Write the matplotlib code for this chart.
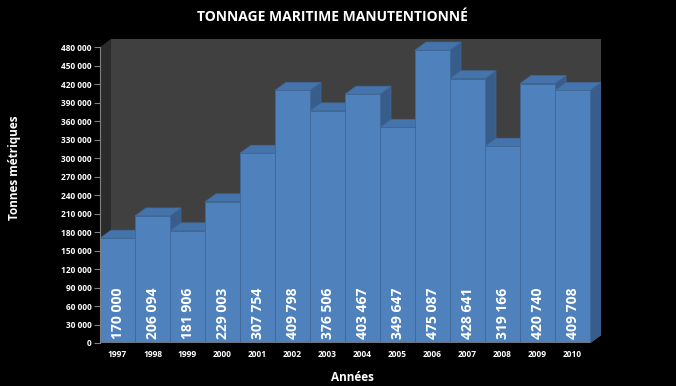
"""Tonnage maritime manutentionné, 1997-2010 -- Excel-like 3D column chart."""
import matplotlib
matplotlib.use("Agg")
import matplotlib.pyplot as plt
from matplotlib.ticker import FuncFormatter

plt.rcParams['font.family'] = ['Open Sans', 'DejaVu Sans']

YEARS = ["1997", "1998", "1999", "2000", "2001", "2002", "2003",
         "2004", "2005", "2006", "2007", "2008", "2009", "2010"]
TONNES = [170000, 206094, 181906, 229003, 307754, 409798, 376506,
          403467, 349647, 475087, 428641, 319166, 420740, 409708]
Y_TICKS = list(range(0, 480001, 30000))

# oblique depth offset (bar widths / data units)
DX = 0.314
DY = 12990
YMAX = 480000

FRONT = "#4f81bd"
TOP = "#4573ab"
SIDE = "#385d8a"
EDGE = "#3f6898"


def fmt(v, pos=None):
    return f"{int(v):,}".replace(",", " ")


def main():
    fig = plt.figure(figsize=(6.76, 3.86), dpi=100, facecolor="black")
    ax = fig.add_axes([100 / 676, 43 / 386, 501 / 676, 304 / 386])
    ax.set_facecolor("black")
    n = len(TONNES)
    ax.set_xlim(0, n + DX)
    ax.set_ylim(0, YMAX + DY)

    # walls
    ax.fill([DX, n + DX, n + DX, DX], [DY, DY, YMAX + DY, YMAX + DY],
            color="#404040", lw=0, zorder=0)
    ax.fill([0, DX, DX, 0], [0, DY, YMAX + DY, YMAX],
            color="#2b2b2b", lw=0, zorder=0)
    ax.fill([0, n, n + DX, DX], [0, 0, DY, DY], color="#111111", lw=0, zorder=0)

    for i, v in enumerate(TONNES):
        x0, x1 = i, i + 1
        # side
        ax.fill([x1, x1 + DX, x1 + DX, x1], [0, DY, v + DY, v],
                color=SIDE, ec=EDGE, lw=0.5, zorder=2)
        # top
        ax.fill([x0, x0 + DX, x1 + DX, x1], [v, v + DY, v + DY, v],
                color=TOP, ec=EDGE, lw=0.5, zorder=2)
        # front
        ax.fill([x0, x1, x1, x0], [0, 0, v, v],
                color=FRONT, ec=EDGE, lw=0.6, zorder=2)
        ax.text(i + 0.5, 7000, fmt(v), rotation=90, ha="center", va="bottom",
                color="white", fontsize=10, fontweight="bold", zorder=3)

    # floor front edge
    ax.plot([0, n], [0, 0], color="#707070", lw=1.2, zorder=4)

    for s in ("top", "right", "bottom"):
        ax.spines[s].set_visible(False)
    ax.spines["left"].set_color("#808080")
    ax.spines["left"].set_bounds(0, YMAX)
    ax.spines["left"].set_zorder(5)

    ax.set_yticks(Y_TICKS)
    ax.yaxis.set_major_formatter(FuncFormatter(fmt))
    ax.tick_params(axis="y", colors="#808080", length=4, width=0.8,
                   labelcolor="white", labelsize=6, pad=2)
    for t in ax.get_yticklabels():
        t.set_fontweight("bold")

    ax.set_xticks([i + 0.5 for i in range(n)])
    ax.set_xticklabels(YEARS, fontsize=6, fontweight="bold", color="white")
    ax.tick_params(axis="x", length=0, pad=5)

    fig.text(0.492, 0.955, "TONNAGE MARITIME MANUTENTIONNÉ", ha="center",
             va="center", color="white", fontsize=10, fontweight="bold")
    fig.text(0.022, 0.565, "Tonnes métriques", rotation=90, ha="center",
             va="center", color="white", fontsize=8.5, fontweight="bold")
    fig.text(0.521, 0.023, "Années", ha="center", va="center",
             color="white", fontsize=8.5, fontweight="bold")

    fig.savefig("out.png", dpi=100, facecolor="black")
    plt.close(fig)


if __name__ == "__main__":
    main()
